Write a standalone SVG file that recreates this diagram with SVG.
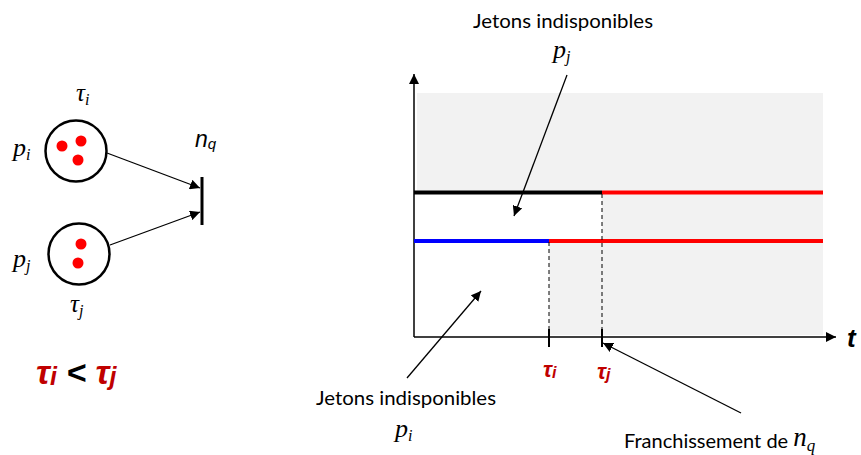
<svg xmlns="http://www.w3.org/2000/svg" width="861" height="455" viewBox="0 0 861 455">
<style>
.lbl{font-family:Lato,"Open Sans",sans-serif;font-size:20px;fill:#000}
.m{font-family:"Liberation Serif",serif;font-style:italic;fill:#000}
.tau{font-family:"Liberation Sans",sans-serif;font-style:italic;font-weight:bold;fill:#c00000}
.ln{stroke:#000;stroke-width:1.3;fill:none}
.place{fill:#fff;stroke:#000;stroke-width:2.5}
.tok{fill:#ff0000}
</style>
<defs>
<marker id="ah" viewBox="0 0 10 10" refX="10" refY="5" markerWidth="10" markerHeight="10" markerUnits="userSpaceOnUse" orient="auto">
<path d="M0,0 L10,5 L0,10 z" fill="#000"/>
</marker>
</defs>
<rect width="861" height="455" fill="#fff"/>
<g id="chart">
<rect x="417" y="93" width="406" height="242" fill="#f2f2f2"/>
<path d="M416,194 H602 V241 H549 V335 H416 Z" fill="#fff"/>
<line x1="414" y1="337" x2="414" y2="74" stroke="#000" stroke-width="1.5" marker-end="url(#ah)"/>
<line x1="414" y1="337" x2="836" y2="337" stroke="#000" stroke-width="1.5" marker-end="url(#ah)"/>
<line x1="414" y1="192.5" x2="602" y2="192.5" stroke="#000" stroke-width="4"/>
<line x1="602" y1="192.5" x2="823" y2="192.5" stroke="#ff0000" stroke-width="4"/>
<line x1="414" y1="241" x2="549" y2="241" stroke="#0000ff" stroke-width="4"/>
<line x1="549" y1="241" x2="823" y2="241" stroke="#ff0000" stroke-width="4"/>
<line x1="549" y1="242" x2="549" y2="337" stroke="#000" stroke-width="1" stroke-dasharray="4,3"/>
<line x1="602" y1="194" x2="602" y2="337" stroke="#000" stroke-width="1" stroke-dasharray="4,3"/>
<line x1="549" y1="329" x2="549" y2="347" stroke="#000" stroke-width="2"/>
<line x1="602" y1="329" x2="602" y2="347" stroke="#000" stroke-width="2"/>
<text x="847" y="347" font-family="Liberation Sans,sans-serif" font-style="italic" font-weight="bold" font-size="26">t</text>
<text x="543" y="377" class="tau" font-size="22">τ<tspan font-size="16" dy="1">i</tspan></text>
<text x="597" y="379" class="tau" font-size="22">τ<tspan font-size="16" dy="1">j</tspan></text>
</g>
<g id="labels">
<text x="473" y="28" class="lbl" textLength="180" lengthAdjust="spacingAndGlyphs">Jetons indisponibles</text>
<text x="553" y="58" class="m" font-size="26">p<tspan font-size="16" dy="4">j</tspan></text>
<text x="316" y="405" class="lbl" textLength="180" lengthAdjust="spacingAndGlyphs">Jetons indisponibles</text>
<text x="395" y="437" class="m" font-size="26">p<tspan font-size="16" dy="4">i</tspan></text>
<text x="624" y="448" class="lbl" font-size="18">Franchissement de <tspan dy="-2" class="m" font-size="27">n</tspan><tspan class="m" font-size="17" dy="5">q</tspan></text>
</g>
<g id="place-pi">
<circle cx="76" cy="151" r="30.5" class="place"/>
<circle cx="62" cy="146" r="5.5" class="tok"/>
<circle cx="81" cy="141" r="5.5" class="tok"/>
<circle cx="78" cy="160" r="5.5" class="tok"/>
<text x="13" y="156" class="m" font-size="26">p<tspan font-size="16" dy="4">i</tspan></text>
<text x="76" y="101" class="m" font-size="25">τ<tspan font-size="16" dy="4">i</tspan></text>
</g>
<g id="place-pj">
<circle cx="79" cy="254" r="30.5" class="place"/>
<circle cx="81" cy="244" r="5.5" class="tok"/>
<circle cx="78" cy="263" r="5.5" class="tok"/>
<text x="13" y="267" class="m" font-size="26">p<tspan font-size="16" dy="4">j</tspan></text>
<text x="70" y="312" class="m" font-size="25">τ<tspan font-size="16" dy="4">j</tspan></text>
</g>
<g id="transition-nq">
<line x1="202" y1="177" x2="202" y2="225" stroke="#000" stroke-width="3"/>
<text x="195" y="147" font-family="Liberation Sans,sans-serif" font-style="italic" font-size="23">n<tspan font-size="15" dy="2">q</tspan></text>
</g>
<g id="connectors">
<line x1="107" y1="153" x2="200" y2="188" class="ln" marker-end="url(#ah)"/>
<line x1="110" y1="245" x2="200" y2="212" class="ln" marker-end="url(#ah)"/>
<line x1="567" y1="75" x2="514" y2="216" class="ln" marker-end="url(#ah)"/>
<line x1="407" y1="378" x2="481" y2="291" class="ln" marker-end="url(#ah)"/>
<line x1="741" y1="413" x2="603" y2="343" class="ln" marker-end="url(#ah)"/>
</g>
<g id="inequality">
<text x="36" y="384" class="tau" font-size="34">τ<tspan font-size="25" dy="1">i</tspan><tspan fill="#000" dy="-1"> &lt; </tspan>τ<tspan font-size="25" dy="1">j</tspan></text>
</g>
</svg>
